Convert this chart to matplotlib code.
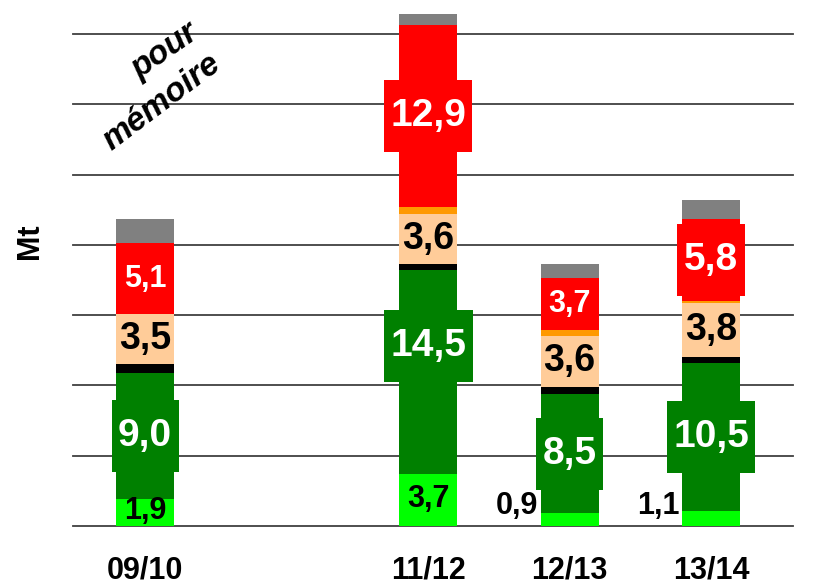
import matplotlib
matplotlib.use("Agg")
import matplotlib.pyplot as plt
from matplotlib.patches import Rectangle

# values in Mt, bottom to top of each stack
seasons = ["09/10", "11/12", "12/13", "13/14"]
xpos = [0, 2, 3, 4]          # 10/11 slot left empty
light_green = [1.9, 3.7, 0.9, 1.1]
green = [9.0, 14.5, 8.5, 10.5]
black = [0.65, 0.4, 0.5, 0.45]
peach = [3.5, 3.6, 3.6, 3.8]
orange = [0.0, 0.5, 0.45, 0.15]
red = [5.1, 12.9, 3.7, 5.8]
grey = [1.7, 0.8, 1.0, 1.4]

FONT = "Liberation Sans"

fig = plt.figure(figsize=(8.28, 5.86), dpi=100)
ax = fig.add_axes([73 / 828, 60 / 586, 720 / 828, 37.2 * 14.06 / 586])
ax.set_xlim(-0.51, 4.58)
ax.set_ylim(0, 37.2)
for s in ax.spines.values():
    s.set_visible(False)
ax.set_yticks([])
for g in range(0, 36, 5):
    ax.axhline(g, color="#404040", lw=1.3, zorder=0, clip_on=False)

W = 0.41
stack = [
    (light_green, "#00ff00", "small_black"),
    (green, "#008000", "big_white"),
    (black, "#000000", None),
    (peach, "#ffcc99", "peach"),
    (orange, "#ff9900", None),
    (red, "#ff0000", "red"),
    (grey, "#808080", None),
]
label_y = {("big_white", 1): 12.8}

bottom = [0.0] * len(xpos)
boxed = []
for vals, col, style in stack:
    ax.bar(xpos, vals, W, bottom=bottom, color=col, edgecolor="none", zorder=2)
    for i, (x, v, b) in enumerate(zip(xpos, vals, bottom)):
        txt = f"{v:.1f}".replace(".", ",")
        y = label_y.get((style, i), b + v / 2)
        if style == "small_black":
            if v < 1.5:
                ax.text(x - 0.225, 1.4, txt, ha="right", va="center", fontsize=22,
                        fontweight="bold", family=FONT, color="black", zorder=4)
            else:
                ax.text(x, y + 0.1, txt, ha="center", va="center", fontsize=22,
                        fontweight="bold", family=FONT, color="black", zorder=4)
        elif style == "peach":
            ax.text(x, y, txt, ha="center", va="center", fontsize=27,
                    fontweight="bold", family=FONT, color="black", zorder=4)
        elif style == "big_white" or (style == "red" and v >= 5.5):
            t = ax.text(x, y, txt, ha="center", va="center", fontsize=28,
                        fontweight="bold", family=FONT, color="white", zorder=4)
            boxed.append((t, x, y, col))
        elif style == "red":
            ax.text(x, y, txt, ha="center", va="center", fontsize=22,
                    fontweight="bold", family=FONT, color="white", zorder=4)
    bottom = [b + v for b, v in zip(bottom, vals)]

# coloured boxes behind the large labels (wider than the bar)
fig.canvas.draw()
rend = fig.canvas.get_renderer()
inv = ax.transData.inverted()
for t, x, y, col in boxed:
    bb = t.get_window_extent(rend)
    cx, cy = ax.transData.transform((x, y))
    w, h = bb.width + 13, 72
    (x0, y0), (x1, y1) = inv.transform([(cx - w / 2, cy - h / 2), (cx + w / 2, cy + h / 2)])
    ax.add_patch(Rectangle((x0, y0), x1 - x0, y1 - y0, facecolor=col,
                           edgecolor="none", zorder=3))

ax.set_xticks(xpos)
ax.set_xticklabels(seasons, fontsize=22, fontweight="bold", family=FONT)
ax.tick_params(axis="x", length=0, pad=21)

fig.text(30 / 828, 1 - 241 / 586, "Mt", rotation=90, ha="center", va="center",
         fontsize=22, fontweight="bold", family=FONT)

ax.text(0.14, (526 - 51) / 14.06, "pour", rotation=35, ha="center", va="center",
        fontsize=24, fontweight="bold", style="italic", family=FONT, zorder=5)
ax.text(0.12, (526 - 102) / 14.06, "mémoire", rotation=37, ha="center", va="center",
        fontsize=24, fontweight="bold", style="italic", family=FONT, zorder=5)

fig.savefig("out.png", dpi=100)
